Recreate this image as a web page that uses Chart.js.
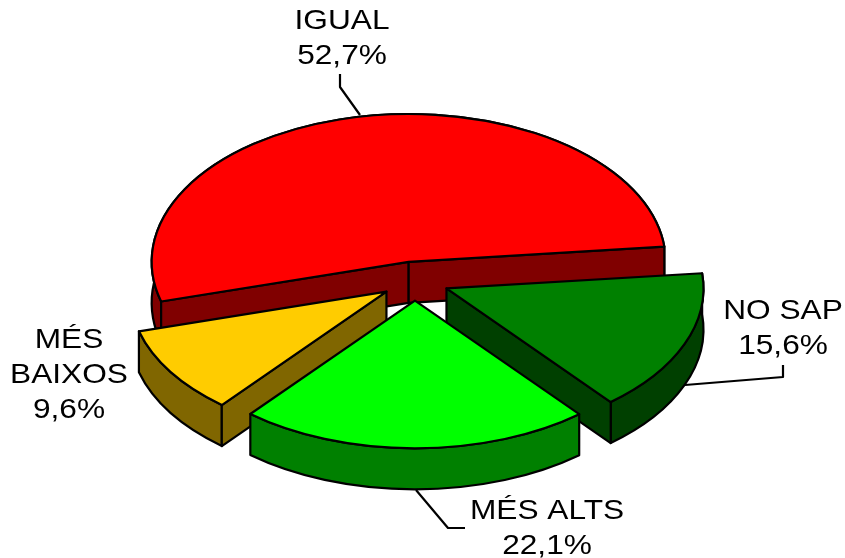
<!DOCTYPE html>
<html>
<head>
<meta charset="utf-8">
<style>html,body{margin:0;padding:0;background:#fff}canvas{display:block}</style>
<script src="https://cdn.jsdelivr.net/npm/chart.js@4"></script>
</head>
<body>
<canvas id="c" width="845" height="558"></canvas>
<script>
const categories = ['IGUAL', 'NO SAP', 'MÉS ALTS', 'MÉS BAIXOS'];
const values = [52.7, 15.6, 22.1, 9.6];
const topColors = ['#FF0000', '#008000', '#00FF00', '#FFCC00'];
const sideColors = ['#800000', '#004000', '#008000', '#806600'];
const labelLines = [['IGUAL'], ['NO SAP'], ['MÉS ALTS'], ['MÉS', 'BAIXOS']];
const labelX = [342, 783, 547, 69];
const labelBaseY = [29, 319, 519, 348];
const leaders = [
  [[340,74],[340,87],[360,115]],
  [[783,365],[783,377],[685,385]],
  [[416,490],[448,528],[465,528]],
  []
];
const drawOrder = [0, 3, 1, 2];
const TILT = 0.575, DEPTH = 41, EXPLODE = 34, LINE = 2.2;
const FONT_PX = 28, TEXT_STRETCH = 1.13, LINE_GAP = 35;

const pie3d = {
  id: 'pie3d',
  beforeDatasetDraw() { return false; },
  afterDatasetsDraw(chart) {
    const ctx = chart.ctx;
    const arcs = chart.getDatasetMeta(0).data;
    ctx.save();
    ctx.lineWidth = LINE;
    ctx.strokeStyle = '#000';
    ctx.lineJoin = 'round';
    drawOrder.forEach(i => {
      const arc = arcs[i];
      const a0 = arc.startAngle, a1 = arc.endAngle, R = arc.outerRadius;
      const mid = (a0 + a1) / 2;
      const ox = arc.x + Math.cos(mid) * EXPLODE;
      const oy = arc.y + Math.sin(mid) * EXPLODE * TILT;
      const rim = a => [ox + Math.cos(a) * R, oy + Math.sin(a) * R * TILT];
      const p0 = rim(a0), p1 = rim(a1);
      ctx.fillStyle = sideColors[i];
      // outer rim
      ctx.beginPath();
      ctx.ellipse(ox, oy, R, R * TILT, 0, a0, a1);
      ctx.lineTo(p1[0], p1[1] + DEPTH);
      ctx.ellipse(ox, oy + DEPTH, R, R * TILT, 0, a1, a0, true);
      ctx.closePath();
      ctx.fill();
      ctx.stroke();
      // radial cut faces that look towards the viewer
      const faces = [];
      if (Math.cos(a0) < 0) faces.push(p0);
      if (Math.cos(a1) > 0) faces.push(p1);
      faces.forEach(p => {
        ctx.beginPath();
        ctx.moveTo(ox, oy);
        ctx.lineTo(p[0], p[1]);
        ctx.lineTo(p[0], p[1] + DEPTH);
        ctx.lineTo(ox, oy + DEPTH);
        ctx.closePath();
        ctx.fill();
        ctx.stroke();
      });
      // top face: the library's own arc element, tilted
      ctx.save();
      ctx.translate(ox, oy);
      ctx.scale(1, TILT);
      ctx.translate(-arc.x, -arc.y);
      arc.draw(ctx);
      ctx.restore();
      ctx.beginPath();
      ctx.moveTo(ox, oy);
      ctx.ellipse(ox, oy, R, R * TILT, 0, a0, a1);
      ctx.closePath();
      ctx.stroke();
    });
    // leader lines
    leaders.forEach(l => {
      if (!l.length) return;
      ctx.beginPath();
      l.forEach((p, k) => k ? ctx.lineTo(p[0], p[1]) : ctx.moveTo(p[0], p[1]));
      ctx.stroke();
    });
    // labels
    ctx.fillStyle = '#000';
    ctx.textAlign = 'center';
    ctx.textBaseline = 'alphabetic';
    ctx.font = FONT_PX + 'px "Liberation Sans", Arial, sans-serif';
    categories.forEach((c, i) => {
      const lines = labelLines[i].concat([values[i].toFixed(1).replace('.', ',') + '%']);
      lines.forEach((t, k) => {
        ctx.save();
        ctx.translate(labelX[i], labelBaseY[i] + k * LINE_GAP);
        ctx.scale(TEXT_STRETCH, 1);
        ctx.fillText(t, 0, 0);
        ctx.restore();
      });
    });
    ctx.restore();
  }
};

new Chart(document.getElementById('c').getContext('2d'), {
  type: 'pie',
  data: {
    labels: categories,
    datasets: [{
      data: values,
      backgroundColor: topColors,
      borderWidth: 0,
      offset: 0,
      hoverOffset: 0
    }]
  },
  options: {
    responsive: false,
    animation: false,
    rotation: 254.4,
    radius: 257,
    layout: { padding: { top: 4, right: 15 } },
    events: [],
    plugins: { legend: { display: false }, tooltip: { enabled: false } }
  },
  plugins: [pie3d]
});
</script>
</body>
</html>
